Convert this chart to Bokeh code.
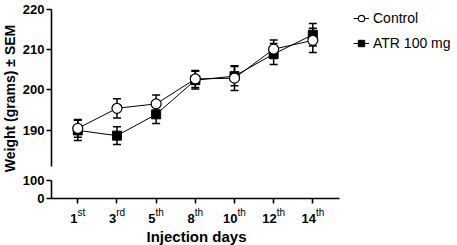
import math
from bokeh.plotting import figure
from bokeh.models import (Range1d, LinearAxis, FixedTicker, ColumnDataSource,
                          LabelSet, Label, Legend, LegendItem)
from bokeh.embed import file_html
from bokeh.resources import INLINE
from bokeh.core.properties import value

# ---- data ----
days = ["1", "3", "5", "8", "10", "12", "14"]
day_suffix = ["st", "rd", "th", "th", "th", "th", "th"]
control_mean = [190.4, 195.4, 196.5, 202.7, 202.9, 210.1, 212.3]
control_sem = [2.2, 2.4, 2.2, 2.1, 3.1, 2.3, 3.0]
atr_mean = [189.9, 188.6, 193.9, 202.4, 203.4, 208.9, 213.7]
atr_sem = [2.5, 2.2, 2.3, 2.2, 2.4, 2.6, 2.8]
y_ticks_upper = [190, 200, 210, 220]
y_ticks_lower = [0, 100]
series_labels = ["Control", "ATR 100 mg"]
y_title = "Weight (grams) \u00b1 SEM"
x_title = "Injection days"

FONT = "Liberation Sans"
W, H = 457, 245
x = list(range(len(days)))

# scale layout: whole canvas is the frame; axes are drawn at fixed locations
x_px0, x_step = 77.3, 39.17          # pixel of first category, spacing
y_px190, y_scale = 129.5, 4.02       # pixel of 190 g, pixels per gram
axis_left_px, axis_bottom_px = 51, 198
x_axis_right_px = 339
low_scale = 0.18                     # pixels per unit on the lower segment

def xval(px):
    return (px - x_px0) / x_step

def yval(px):
    return 190 + (y_px190 - px) / y_scale

p = figure(width=W, height=H, output_backend="svg", toolbar_location=None,
           x_range=Range1d(xval(0), xval(W)), y_range=Range1d(yval(H), yval(0)),
           x_axis_location=None, y_axis_location=None, min_border=0)
p.outline_line_color = None
p.grid.visible = False
p.extra_y_ranges = {"low": Range1d(-(H - axis_bottom_px) / low_scale,
                                   axis_bottom_px / low_scale)}

x_axis_loc = xval(axis_left_px)
y_axis_loc = yval(axis_bottom_px)

def style_axis(ax):
    ax.axis_line_width = 1.6
    ax.axis_line_color = "black"
    ax.major_tick_line_width = 1.6
    ax.major_tick_line_color = "black"
    ax.major_tick_out = 5
    ax.major_tick_in = 0
    ax.minor_tick_line_color = None
    ax.major_label_standoff = 2
    ax.major_label_text_font = FONT
    ax.major_label_text_font_style = "bold"
    ax.major_label_text_font_size = "13px"
    ax.major_label_text_color = "black"

upper_axis = LinearAxis(fixed_location=x_axis_loc, bounds=(181, 220),
                        ticker=FixedTicker(ticks=y_ticks_upper, minor_ticks=[]))
style_axis(upper_axis)
p.add_layout(upper_axis, "left")

lower_axis = LinearAxis(y_range_name="low", fixed_location=x_axis_loc, bounds=(0, 100),
                        ticker=FixedTicker(ticks=y_ticks_lower, minor_ticks=[]))
style_axis(lower_axis)
p.add_layout(lower_axis, "left")

x_axis = LinearAxis(fixed_location=y_axis_loc,
                    bounds=(x_axis_loc, xval(x_axis_right_px)),
                    ticker=FixedTicker(ticks=x, minor_ticks=[]),
                    major_label_overrides={i: "" for i in x})
style_axis(x_axis)
p.add_layout(x_axis, "below")

# error bars
for mean, sem in [(atr_mean, atr_sem), (control_mean, control_sem)]:
    lo = [m - s for m, s in zip(mean, sem)]
    hi = [m + s for m, s in zip(mean, sem)]
    p.segment(x0=x, y0=lo, x1=x, y1=hi, line_color="black", line_width=1.5)
    p.scatter(x=x, y=lo, marker="dash", size=8, line_color="black", line_width=1.5)
    p.scatter(x=x, y=hi, marker="dash", size=8, line_color="black", line_width=1.5)

atr_line = p.line(x, atr_mean, line_color="black", line_width=1)
atr_pts = p.scatter(x, atr_mean, marker="square", size=9, fill_color="black",
                    line_color="black", line_width=1)
ctrl_line = p.line(x, control_mean, line_color="black", line_width=1)
ctrl_pts = p.scatter(x, control_mean, marker="circle", size=10, fill_color="white",
                     line_color="black", line_width=1.2)

# x tick labels with superscripts
w_sup = {"s": 0.5, "t": 0.278, "r": 0.333, "d": 0.556, "h": 0.556}
offs = []
for n, s in zip(days, day_suffix):
    wb = len(n) * 0.556 * 13
    ws = sum(w_sup[c] for c in s) * 10
    offs.append((wb - ws) / 2)
src = ColumnDataSource(dict(x=x, num=days, sup=day_suffix, off=offs))
p.add_layout(LabelSet(x="x", y=H - 222, y_units="screen", text="num", x_offset="off",
                      text_align="right", text_baseline="alphabetic",
                      text_font=value(FONT), text_font_style="bold",
                      text_font_size="13px", text_color="black", source=src))
p.add_layout(LabelSet(x="x", y=H - 215, y_units="screen", text="sup", x_offset="off",
                      text_align="left", text_baseline="alphabetic",
                      text_font=value(FONT), text_font_size="10px",
                      text_color="black", source=src))

# axis titles
p.add_layout(Label(x=9, y=H - 98, x_units="screen", y_units="screen", text=y_title,
                   angle=math.pi / 2, text_align="center", text_baseline="middle",
                   text_font=FONT, text_font_style="bold", text_font_size="14px",
                   text_color="black"))
p.add_layout(Label(x=196, y=H - 236, x_units="screen", y_units="screen", text=x_title,
                   text_align="center", text_baseline="alphabetic",
                   text_font=FONT, text_font_style="bold", text_font_size="15px",
                   text_color="black"))

legend = Legend(items=[LegendItem(label=series_labels[0], renderers=[ctrl_line, ctrl_pts]),
                       LegendItem(label=series_labels[1], renderers=[atr_line, atr_pts])],
                location=(353, H - 51.3), padding=0, margin=0, spacing=9,
                glyph_width=16, glyph_height=16, label_height=16, label_standoff=4,
                label_text_font=FONT, label_text_font_size="14px",
                label_text_color="black", border_line_color=None,
                background_fill_alpha=0)
p.add_layout(legend)

open("out.html", "w").write(file_html(p, INLINE))
